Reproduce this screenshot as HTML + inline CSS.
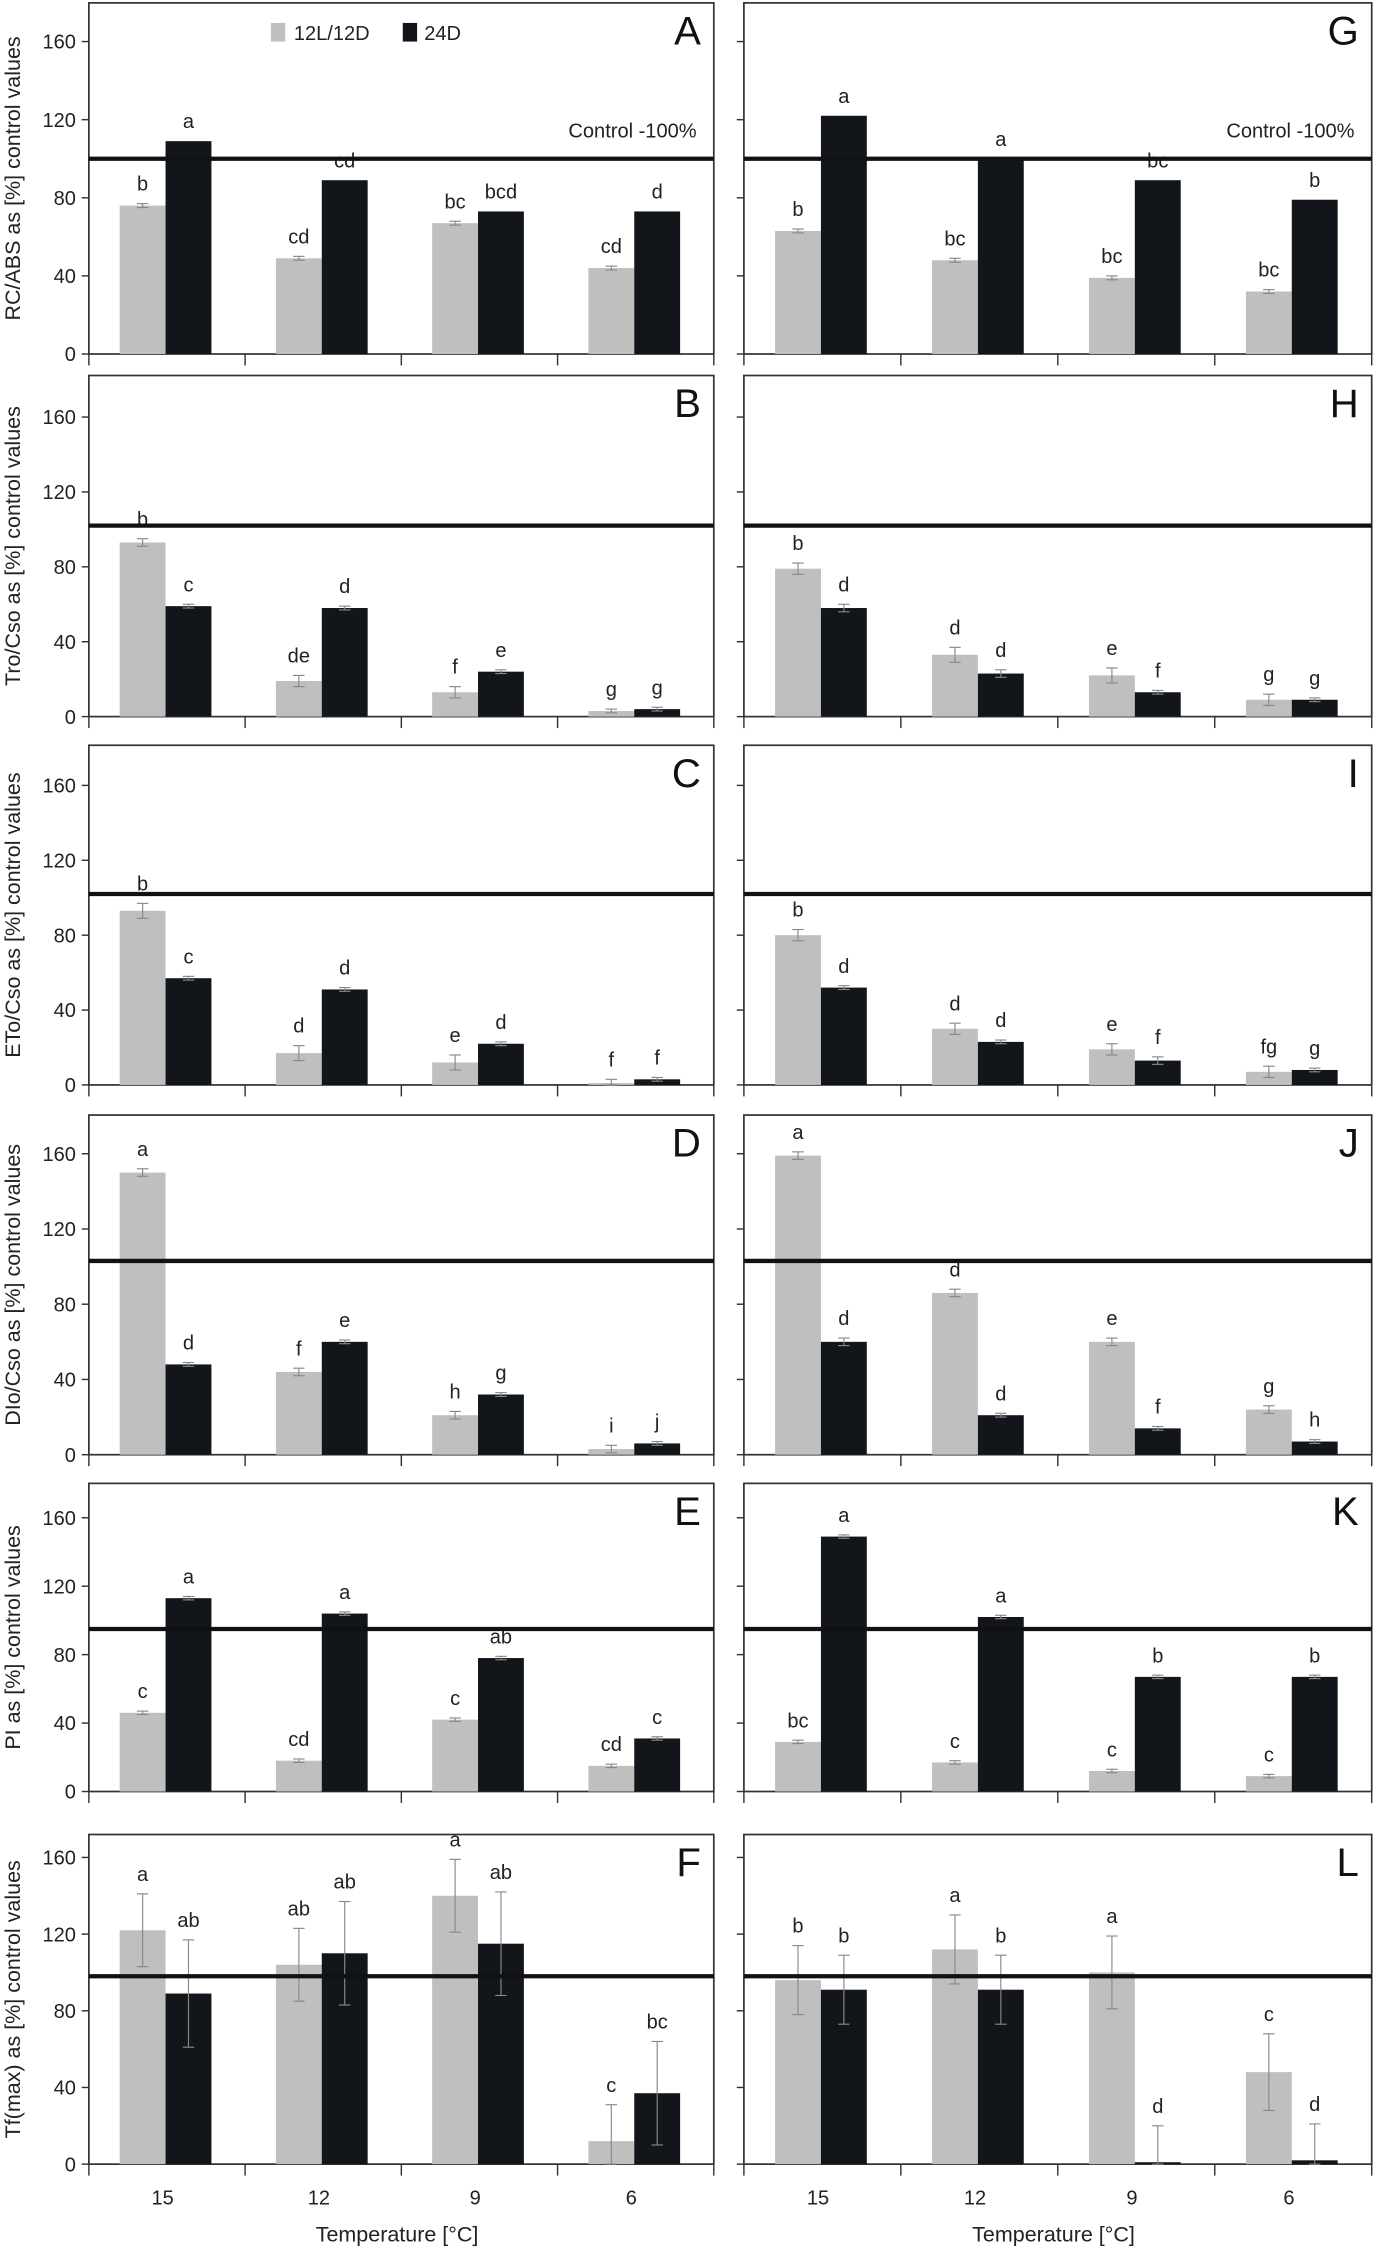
<!DOCTYPE html>
<html><head><meta charset="utf-8"><style>
html,body{margin:0;padding:0;background:#fff;}
svg{display:block;font-family:"Liberation Sans",sans-serif;}
</style></head><body>
<svg id="chart" width="1376" height="2253" viewBox="0 0 960 1572" preserveAspectRatio="none" xmlns="http://www.w3.org/2000/svg"></svg>
<script>
const categories = ["15","12","9","6"];
const yTicks = [0,40,80,120,160];
const panelLetters = ["A","B","C","D","E","F","G","H","I","J","K","L"];
const yLabels = ["RC/ABS  as [%] control values","Tro/Cso as [%] control values","ETo/Cso as [%] control values","DIo/Cso as [%] control values","PI as [%] control values","Tf(max) as [%] control values"];
const controlValues = [100,102,102,103,95,98];
const grayValues = [[76,49,67,44],[93,19,13,3],[93,17,12,1],[150,44,21,3],[46,18,42,15],[122,104,140,12],
 [63,48,39,32],[79,33,22,9],[80,30,19,7],[159,86,60,24],[29,17,12,9],[96,112,100,48]];
const blackValues = [[109,89,73,73],[59,58,24,4],[57,51,22,3],[48,60,32,6],[113,104,78,31],[89,110,115,37],
 [122,100,89,79],[58,23,13,9],[52,23,13,8],[60,21,14,7],[149,102,67,67],[91,91,1,2]];
const grayErr = [[1,1,1,1],[2,3,3,1],[4,4,4,2],[2,2,2,2],[1,1,1,1],[19,19,19,19],
 [1,1,1,1],[3,4,4,3],[3,3,3,3],[2,2,2,2],[1,1,1,1],[18,18,19,20]];
const blackErr = [[0,0,0,0],[1,1,1,1],[1,1,1,1],[1,1,1,1],[1,1,1,1],[28,27,27,27],
 [0,0,0,0],[2,2,1,1],[1,1,2,1],[2,1,1,1],[1,1,1,1],[18,18,19,19]];
const grayLetters = [["b","cd","bc","cd"],["b","de","f","g"],["b","d","e","f"],["a","f","h","i"],["c","cd","c","cd"],["a","ab","a","c"],
 ["b","bc","bc","bc"],["b","d","e","g"],["b","d","e","fg"],["a","d","e","g"],["bc","c","c","c"],["b","a","a","c"]];
const blackLetters = [["a","cd","bcd","d"],["c","d","e","g"],["c","d","d","f"],["d","e","g","j"],["a","a","ab","c"],["ab","ab","ab","bc"],
 ["a","a","bc","b"],["d","d","f","g"],["d","d","f","g"],["d","d","f","h"],["a","a","b","b"],["b","b","d","d"]];

const NS="http://www.w3.org/2000/svg";
const svg=document.getElementById('chart');
function mk(tag,attrs,parent){const e=document.createElementNS(NS,tag);for(const k in attrs)e.setAttribute(k,attrs[k]);(parent||svg).appendChild(e);return e;}
const rows=[{top:2,y0:247,y160:29},{top:262,y0:500,y160:291},{top:520,y0:757,y160:548},{top:778,y0:1015,y160:805},{top:1035,y0:1250,y160:1059},{top:1280,y0:1510,y160:1296}];
const cols=[{x0:62,x1:498},{x0:519,x1:957}];

for(let p=0;p<12;p++){
  const c=cols[Math.floor(p/6)], r=rows[p%6], row=p%6, left=p<6;
  const g=mk('g',{});
  
  
  const yS=v=>r.y0-(r.y0-r.y160)*v/160;
  const gw=(c.x1-c.x0)/4;
  const xC=i=>c.x0+(i+0.5)*gw;
  const fr=mk('rect',{x:c.x0,y:r.top,width:c.x1-c.x0,height:r.y0-r.top,fill:'none',stroke:'#333','stroke-width':1.2},g);
  
  
  yTicks.forEach(t=>{
    mk('line',{x1:c.x0-5,x2:c.x0,y1:yS(t),y2:yS(t),stroke:'#333','stroke-width':1},g);
    if(left){const tx=mk('text',{x:c.x0-9,y:yS(t)+5,'text-anchor':'end','font-size':14,fill:'#222'},g);tx.textContent=t;
      
      }
  });
  for(let i=0;i<=4;i++){const xx=c.x0+i*gw;mk('line',{x1:xx,x2:xx,y1:r.y0,y2:r.y0+8,stroke:'#333','stroke-width':1},g);}
  for(let i=0;i<4;i++){
    const cx=xC(i);
    [[grayValues,grayErr,grayLetters,'#bfbfbf',cx-33,'gray'],[blackValues,blackErr,blackLetters,'#121519',cx-1,'black']].forEach(([vals,errs,lets,col,bx,nm])=>{
      const v=vals[p][i], e=errs[p][i];
      const b=mk('rect',{x:bx,y:yS(v),width:32,height:r.y0-yS(v),fill:col},g);
      
      
      const mx=bx+16;
      if(e>0){
        mk('line',{x1:mx,x2:mx,y1:yS(v+e),y2:yS(Math.max(0,v-e)),stroke:'#888','stroke-width':0.8},g);
        mk('line',{x1:mx-4,x2:mx+4,y1:yS(v+e),y2:yS(v+e),stroke:'#888','stroke-width':0.8},g);
        mk('line',{x1:mx-4,x2:mx+4,y1:yS(Math.max(0,v-e)),y2:yS(Math.max(0,v-e)),stroke:'#888','stroke-width':0.8},g);
      }
      const lt=mk('text',{x:mx,y:yS(v+e)-9,'text-anchor':'middle','font-size':14,fill:'#222'},g);
      lt.textContent=lets[p][i];
      
      
    });
  }
  const cl=mk('line',{x1:c.x0,x2:c.x1,y1:yS(controlValues[row]),y2:yS(controlValues[row]),stroke:'#111','stroke-width':3},g);
  
  
  if(row===0){const ct=mk('text',{x:c.x1-12,y:96,'text-anchor':'end','font-size':14,fill:'#222'},g);ct.textContent='Control -100%';
    
    }
  const pl=mk('text',{x:c.x1-9,y:r.top+29,'text-anchor':'end','font-size':28,fill:'#111'},g);
  pl.textContent=panelLetters[p];
  
  
  if(left){
    const ym=(r.top+r.y0)/2;
    const yl=mk('text',{x:0,y:0,transform:`translate(14,${ym}) rotate(-90)`,'text-anchor':'middle','font-size':15,fill:'#222'},g);
    yl.textContent=yLabels[row];
    
    
  }
  if(row===5){
    for(let i=0;i<4;i++){const t=mk('text',{x:xC(i)-3,y:1538,'text-anchor':'middle','font-size':14,fill:'#222'},g);t.textContent=categories[i];
      
      }
    const xt=mk('text',{x:(c.x0+c.x1)/2-3,y:1564,'text-anchor':'middle','font-size':15,fill:'#222'},g);
    xt.textContent='Temperature [°C]';
    
    
  }
}
const lg=mk('g',{});


mk('rect',{x:189,y:16,width:10,height:13,fill:'#bfbfbf'},lg);
const l1=mk('text',{x:205,y:28,'font-size':14,fill:'#222'},lg);l1.textContent='12L/12D';


mk('rect',{x:281,y:16,width:10,height:13,fill:'#121519'},lg);
const l2=mk('text',{x:296,y:28,'font-size':14,fill:'#222'},lg);l2.textContent='24D';


</script>
</body></html>
